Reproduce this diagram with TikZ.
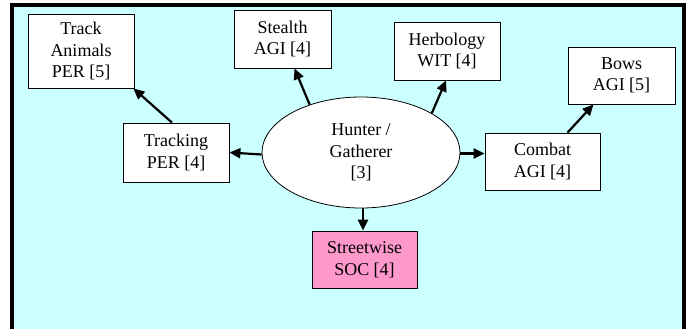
\documentclass[tikz,border=0pt]{standalone}
\usepackage{fontspec}
\setmainfont{Liberation Serif}
\usetikzlibrary{arrows.meta, shapes.geometric}
\definecolor{skillbg}{HTML}{CCFFFF}
\definecolor{skillpink}{HTML}{FF99CC}

\begin{document}
\begin{tikzpicture}[x = 1pt, y = -1pt,
    skill/.style = {draw, fill = white, line width = 0.8pt, align = center,
      inner sep = 0pt, font = \fontsize{18}{21.5}\selectfont},
    link/.style = {-{Triangle[length = 11pt, width = 10pt]}, line width = 2.2pt}]
    \useasboundingbox (0,0) rectangle (688,329);
    \clip (0,0) rectangle (688,329);
    \draw [line width = 4pt, fill = skillbg] (12,5) rectangle (684,345);
    \node [skill, minimum width = 106, minimum height = 74] (animals) at (81,51)
      {Track\\Animals\\PER [5]};
    \node [skill, minimum width = 97, minimum height = 58] (stealth) at (282.5,39)
      {Stealth\\AGI [4]};
    \node [skill, minimum width = 106, minimum height = 58] (herbology) at (447,51)
      {Herbology\\WIT [4]};
    \node [skill, minimum width = 107, minimum height = 57] (bows) at (621.5,75.5)
      {Bows\\AGI [5]};
    \node [skill, minimum width = 106, minimum height = 59] (tracking) at (176,152.5)
      {Tracking\\PER [4]};
    \node [skill, minimum width = 115, minimum height = 57] (combat) at (542.5,161.5)
      {Combat\\AGI [4]};
    \node [skill, fill = skillpink, minimum width = 105, minimum height = 57] (streetwise)
      at (364.5,259.5) {Streetwise\\SOC [4]};
    \node [skill, ellipse, minimum width = 198, minimum height = 111] (hunter)
      at (361,152.5) {Hunter /\\Gatherer\\{}[3]};
    \draw [link] ([xshift = -4]tracking.north) to ([xshift = -1]animals.south east);
    \draw [link] (hunter.137) to ([xshift = 12]stealth.south);
    \draw [link] (hunter.29) to ([xshift = -1]herbology.south);
    \draw [link] ([yshift = -2]hunter.west) to (hunter.west -| tracking.east);
    \draw [link] ([yshift = -1]hunter.east) to ([yshift = -1]hunter.east -| combat.west);
    \draw [link] ([xshift = 25]combat.north) to ([xshift = -28]bows.south);
    \draw [link] ([xshift = 2]hunter.south) to ([xshift = 2]hunter.south |- streetwise.north);
\end{tikzpicture}
\end{document}
